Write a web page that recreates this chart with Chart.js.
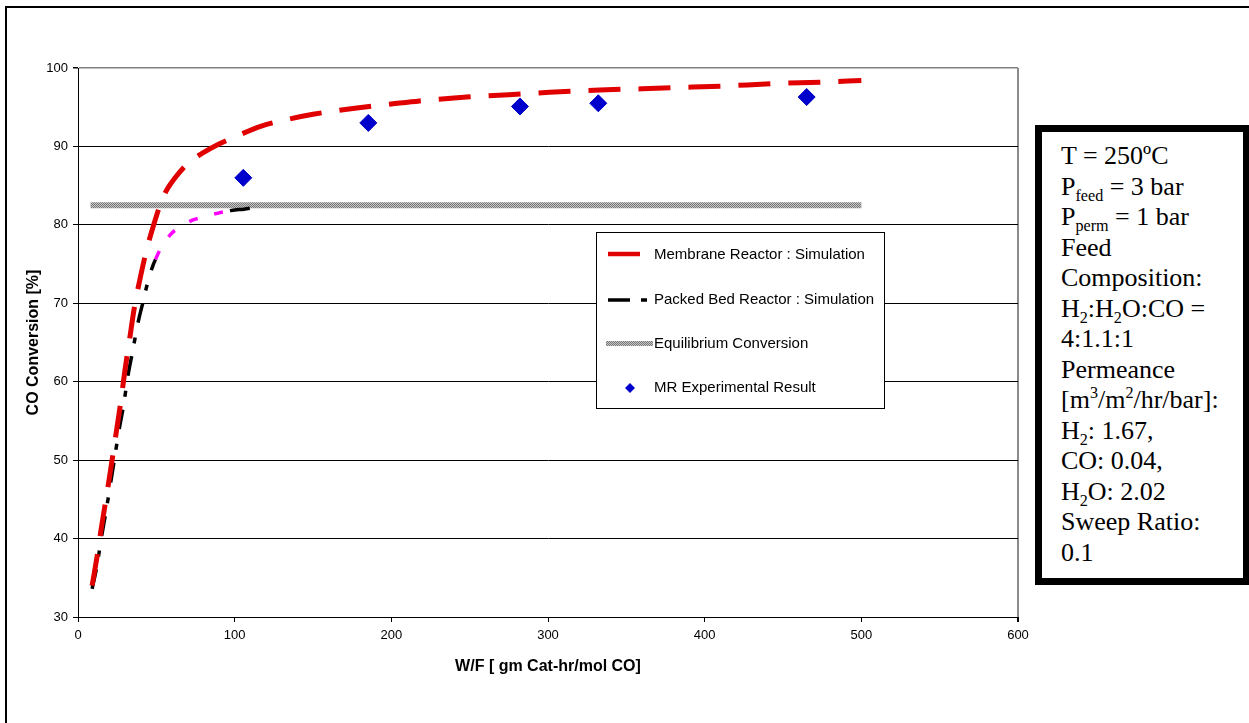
<!DOCTYPE html>
<html lang="en">
<head>
<meta charset="UTF-8">
<title>CO Conversion vs W/F</title>
<script src="https://cdn.jsdelivr.net/npm/chart.js"></script>
<style>
  body { margin: 0; background: #fff; }
  #wrap { position: relative; width: 1249px; height: 723px; overflow: hidden; }
  #note {
    position: absolute; left: 1035px; top: 125px; width: 215px; height: 460px;
    box-sizing: border-box; border: 7px solid #000; background: #fff;
    padding: 9px 0 0 19px; white-space: nowrap;
    font-family: "Liberation Serif", "Times New Roman", serif; font-size: 26px; line-height: 30.5px;
  }
  #note sub, #note sup { font-size: 0.62em; line-height: 0; }
</style>
</head>
<body>
<div id="wrap">
  <canvas id="chart"></canvas>
  <div id="note">
    T = 250ºC<br>
    P<sub>feed</sub> = 3 bar<br>
    P<sub>perm</sub> = 1 bar<br>
    Feed<br>
    Composition:<br>
    H<sub>2</sub>:H<sub>2</sub>O:CO =<br>
    4:1.1:1<br>
    Permeance<br>
    [m<sup>3</sup>/m<sup>2</sup>/hr/bar]:<br>
    H<sub>2</sub>: 1.67,<br>
    CO: 0.04,<br>
    H<sub>2</sub>O: 2.02<br>
    Sweep Ratio:<br>
    0.1
  </div>
</div>

<script>
// Membrane reactor simulation
const mrX = [9, 12, 15, 18, 21, 24, 27, 30, 33, 36, 40, 44, 48, 52, 56, 62, 70, 80, 90, 100,
             117, 135, 150, 178, 200, 218, 248, 275, 301, 333, 360, 382, 412, 443, 474, 500];
const mrY = [34.0, 37.5, 41.5, 45.2, 49.0, 53.0, 57.0, 61.5, 65.5, 69.5, 73.5, 77.0, 79.8, 82.3, 84.2, 86.0, 87.8, 89.2, 90.3, 91.2,
             92.6, 93.5, 94.1, 94.9, 95.4, 95.8, 96.3, 96.6, 96.9, 97.2, 97.35, 97.5, 97.7, 98.0, 98.2, 98.4];

// Packed bed reactor simulation (the middle part is drawn pink in the original)
const pbX = [9, 12, 15, 18, 21, 23, 26, 29, 32, 34.5, 38.5, 41.3, 44.3, 48, 49.5, 52.3, 58.7, 62.6, 73, 78,
             89.5, 97, 100, 106, 112];
const pbY = [33.6, 36.4, 40.2, 43.6, 47.3, 49.8, 53.6, 56.9, 60.9, 63.5, 67.7, 70.0, 72.5, 74.9, 75.6, 76.8, 78.7, 79.4, 80.6, 80.9,
             81.5, 81.8, 81.9, 82.0, 82.2];
const pinkFrom = 49.5;
const pinkTo = 97;

// Equilibrium conversion
const eqX = [8, 500];
const eqY = [82.5, 82.5];

// MR experimental result
const expX = [105.5, 185.3, 282.1, 332.1, 465.1];
const expY = [86.0, 93.0, 95.1, 95.5, 96.3];

const xTicks = [0, 100, 200, 300, 400, 500, 600];
const yTicks = [30, 40, 50, 60, 70, 80, 90, 100];

const toPoints = (xs, ys) => xs.map((x, i) => ({x: x, y: ys[i]}));

const canvas = document.getElementById('chart');
const ctx = canvas.getContext('2d');

// grey dotted texture of the equilibrium line
function greyTexture() {
    const c = document.createElement('canvas');
    c.width = 2; c.height = 2;
    const g = c.getContext('2d');
    g.fillStyle = '#c6c6c6';
    g.fillRect(0, 0, 2, 2);
    g.fillStyle = '#777777';
    g.fillRect(0, 0, 1, 1);
    g.fillRect(1, 1, 1, 1);
    return ctx.createPattern(c, 'repeat');
}
const texture = greyTexture();

const isPink = c => c.p0.parsed.x >= pinkFrom && c.p1.parsed.x <= pinkTo;

// white page with the black frame
const frame = {
    id: 'frame',
    beforeDraw(chart) {
        const c = chart.ctx;
        c.save();
        c.fillStyle = '#ffffff';
        c.fillRect(0, 0, chart.width, chart.height);
        c.strokeStyle = '#000000';
        c.lineWidth = 2;
        c.strokeRect(6, 7, 1400, 900);
        c.restore();
    }
};

// boxed legend inside the plot area
const legendRows = [255, 300, 344, 388];
const boxLegend = {
    id: 'boxLegend',
    afterDraw(chart) {
        const c = chart.ctx;
        c.save();
        c.fillStyle = '#ffffff';
        c.fillRect(596.5, 232.5, 288, 176);
        c.strokeStyle = '#000000';
        c.lineWidth = 1;
        c.strokeRect(596.5, 232.5, 288, 176);

        chart.data.datasets.forEach((ds, i) => {
            const y = legendRows[i];
            c.save();
            if (i === 0) {
                c.strokeStyle = ds.borderColor;
                c.lineWidth = 4.5;
                c.beginPath(); c.moveTo(608, y - 1); c.lineTo(640, y - 1); c.stroke();
            } else if (i === 1) {
                c.strokeStyle = '#000000';
                c.lineWidth = 3.5;
                c.beginPath();
                c.moveTo(608, y); c.lineTo(630, y);
                c.moveTo(641, y); c.lineTo(647, y);
                c.stroke();
            } else if (i === 2) {
                c.fillStyle = texture;
                c.fillRect(606, y - 3, 47, 5);
            } else {
                c.fillStyle = ds.backgroundColor;
                c.beginPath();
                c.moveTo(630, y - 5); c.lineTo(635, y); c.lineTo(630, y + 5); c.lineTo(625, y);
                c.closePath(); c.fill();
            }
            c.restore();
            c.fillStyle = '#000000';
            c.font = '15px "Liberation Sans", Arial, sans-serif';
            c.textBaseline = 'middle';
            c.fillText(ds.label, 654, y);
        });
        c.restore();
    }
};

new Chart(ctx, {
    type: 'line',
    data: {
        datasets: [
            {
                label: 'Membrane Reactor : Simulation',
                data: toPoints(mrX, mrY),
                borderColor: '#e00000',
                borderWidth: 5,
                borderDash: [32, 18],
                pointRadius: 0,
                cubicInterpolationMode: 'monotone',
                order: 1
            },
            {
                label: 'Packed Bed Reactor : Simulation',
                data: toPoints(pbX, pbY),
                borderColor: '#000000',
                borderWidth: 3.5,
                pointRadius: 0,
                cubicInterpolationMode: 'monotone',
                segment: {
                    borderColor: c => isPink(c) ? '#ff00ff' : '#000000',
                    borderDash: c => isPink(c) ? [9, 17] : [20, 13, 6, 15]
                },
                order: 2
            },
            {
                label: 'Equilibrium Conversion',
                data: toPoints(eqX, eqY),
                borderColor: texture,
                borderWidth: 6,
                borderCapStyle: 'butt',
                pointRadius: 0,
                order: 3
            },
            {
                label: 'MR Experimental Result',
                data: toPoints(expX, expY),
                showLine: false,
                pointStyle: 'rectRot',
                pointRadius: 8.5,
                backgroundColor: '#0000cc',
                borderColor: '#0000cc',
                borderWidth: 1,
                order: 0
            }
        ]
    },
    options: {
        responsive: true,
        maintainAspectRatio: false,
        animation: false,
        events: [],
        layout: { padding: { left: 0, top: 68, right: 231, bottom: 0 } },
        plugins: {
            legend: { display: false },
            tooltip: { enabled: false }
        },
        scales: {
            x: {
                type: 'linear',
                min: 0,
                max: 600,
                afterBuildTicks: s => { s.ticks = xTicks.map(v => ({value: v})); },
                afterFit: s => { s.height = 106; },
                grid: {
                    color: c => c.tick.value === 600 ? '#8c8c8c' : 'rgba(0,0,0,0)',
                    lineWidth: c => c.tick.value === 600 ? 2 : 1,
                    tickColor: '#000000',
                    tickLength: 5
                },
                border: { color: '#000000', width: 1 },
                ticks: {
                    color: '#000000',
                    padding: 6,
                    maxRotation: 0,
                    font: { family: '"Liberation Sans", Arial, sans-serif', size: 13 }
                },
                title: {
                    display: true,
                    text: 'W/F [ gm Cat-hr/mol CO]',
                    color: '#000000',
                    padding: { top: 0, bottom: 47 },
                    font: { family: '"Liberation Sans", Arial, sans-serif', size: 16, weight: 'bold' }
                }
            },
            y: {
                type: 'linear',
                min: 30,
                max: 100,
                afterBuildTicks: s => { s.ticks = yTicks.map(v => ({value: v})); },
                afterFit: s => { s.width = 78; },
                grid: {
                    color: c => c.tick.value === 100 ? '#808080' : '#000000',
                    lineWidth: c => c.tick.value === 100 ? 1.5 : 1,
                    tickColor: '#000000',
                    tickLength: 5
                },
                border: { color: '#000000', width: 1 },
                ticks: {
                    color: '#000000',
                    padding: 5,
                    font: { family: '"Liberation Sans", Arial, sans-serif', size: 13 }
                },
                title: {
                    display: true,
                    text: 'CO Conversion [%]',
                    color: '#000000',
                    padding: { top: 24, bottom: 0 },
                    font: { family: '"Liberation Sans", Arial, sans-serif', size: 16, weight: 'bold' }
                }
            }
        }
    },
    plugins: [frame, boxLegend]
});
</script>
</body>
</html>
